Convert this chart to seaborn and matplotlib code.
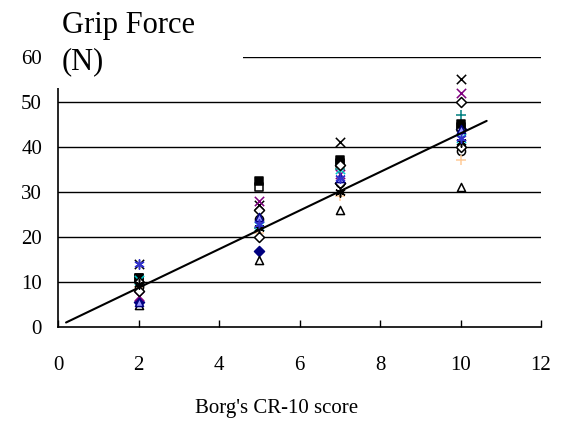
import matplotlib
matplotlib.use("Agg")
import matplotlib.pyplot as plt
import seaborn as sns
import pandas as pd
from matplotlib.patches import Rectangle

# ---- data ----
borg = [2, 5, 7, 10]
s_navy_diamond = [5.5, 17, 32, 44]
s_open_square = [11, 31, 36.5, 44.5]
s_open_triangle = [5, 15, 26, 31]
s_black_x = [14, 27, 41, 55]
s_purple_x = [7, 28, 34, 52]
s_open_circle = [9, 24, 32, 39]
s_teal_plus = [10, 22, 35, 47]
s_black_square = [11, 32.5, 37, 45]
s_cyan_x = [10.5, 22.5, 35, 42]
s_peach_plus = [9, 21, 29, 37]
s_open_diamond_a = [8, 26, 36, 50]
s_open_diamond_b = [10, 20, 32, 40]
s_black_star = [9.5, 22, 30, 41]
s_lavender_tri = [5.5, 24.5, 33, 44]
s_blue_star = [14, 23, 33, 42]

trend_x = [0.2, 10.65]
trend_y = [1.0, 45.8]

yticks = [0, 10, 20, 30, 40, 50, 60]
xticks = [0, 2, 4, 6, 8, 10, 12]

series = [
    (s_navy_diamond, "D", "#000080", "#000080"),
    (s_open_square, "s", "white", "black"),
    (s_open_triangle, "^", "white", "black"),
    (s_black_x, "x", "black", "black"),
    (s_purple_x, "x", "#800080", "#800080"),
    (s_open_circle, "o", "white", "black"),
    (s_teal_plus, "+", "#008080", "#008080"),
    (s_black_square, "s", "black", "black"),
    (s_cyan_x, "x", "#00CCCC", "#00CCCC"),
    (s_peach_plus, "+", "#FFCC99", "#FFCC99"),
    (s_open_diamond_a, "D", "white", "black"),
    (s_open_diamond_b, "D", "white", "black"),
    (s_black_star, (6, 2, 0), "black", "black"),
    (s_lavender_tri, "^", "#9999FF", "#000080"),
    (s_blue_star, (6, 2, 0), "#3333CC", "#3333CC"),
]

sns.set_theme(style="white")
plt.rcParams['font.family'] = ['Liberation Serif', 'DejaVu Serif']
plt.rcParams['text.color'] = 'black'
plt.rcParams['xtick.color'] = 'black'
plt.rcParams['ytick.color'] = 'black'
plt.rcParams['axes.labelcolor'] = 'black'

fig = plt.figure(figsize=(5.67, 4.23), dpi=100)
ax = fig.add_axes([58/567, 1-327/423, (541-58)/567, (327-57)/423])

for vals, mk, fc, ec in series:
    df = pd.DataFrame({"x": borg, "y": vals})
    if mk in ("x", "+") or isinstance(mk, tuple):
        sns.scatterplot(data=df, x="x", y="y", ax=ax, marker=mk, color=fc,
                        s=45, linewidth=1.1, zorder=3)
    else:
        sns.scatterplot(data=df, x="x", y="y", ax=ax, marker=mk, facecolor=fc,
                        edgecolor=ec, s=34 if mk != "D" else 26, linewidth=1.1, zorder=3)

tdf = pd.DataFrame({"x": trend_x, "y": trend_y})
sns.lineplot(data=tdf, x="x", y="y", ax=ax, color="black", linewidth=1.5, zorder=4)

ax.set_xlim(0, 12)
ax.set_ylim(0, 60)
ax.set_xticks(xticks)
ax.set_yticks(yticks)
ax.set_xticklabels([str(t) for t in xticks], fontsize=15, color="black")
ax.set_yticklabels([str(t) for t in yticks], fontsize=15, color="black")
for y in yticks[1:]:
    ax.axhline(y, color="black", linewidth=1.0, zorder=1)
ax.grid(False)
for sp in ["top", "right"]:
    ax.spines[sp].set_visible(False)
for sp in ["left", "bottom"]:
    ax.spines[sp].set_color("black")
    ax.spines[sp].set_linewidth(1.2)
ax.tick_params(axis="x", direction="in", length=5, width=1, color="black", pad=21, bottom=True)
ax.tick_params(axis="y", length=0, pad=11.5, left=False)
ax.set_xlabel("Borg's CR-10 score", fontsize=15, color="black")
ax.xaxis.set_label_coords((277-58)/483, -(408-327)/270, transform=ax.transAxes)
ax.xaxis.label.set_va("center")
ax.set_ylabel("")

# white box behind the y label
fig.patches.append(Rectangle((56/567, 1-88/423), (243-56)/567, 50/423,
                             transform=fig.transFigure, facecolor="white",
                             edgecolor="none", zorder=5))
fig.text(62/567, 1-25/423, "Grip Force", fontsize=22, va="center", ha="left", zorder=6, color="black")
fig.text(62/567, 1-62/423, "(N)", fontsize=22, va="center", ha="left", zorder=6, color="black")

fig.savefig("out.png", dpi=100, facecolor="white")
